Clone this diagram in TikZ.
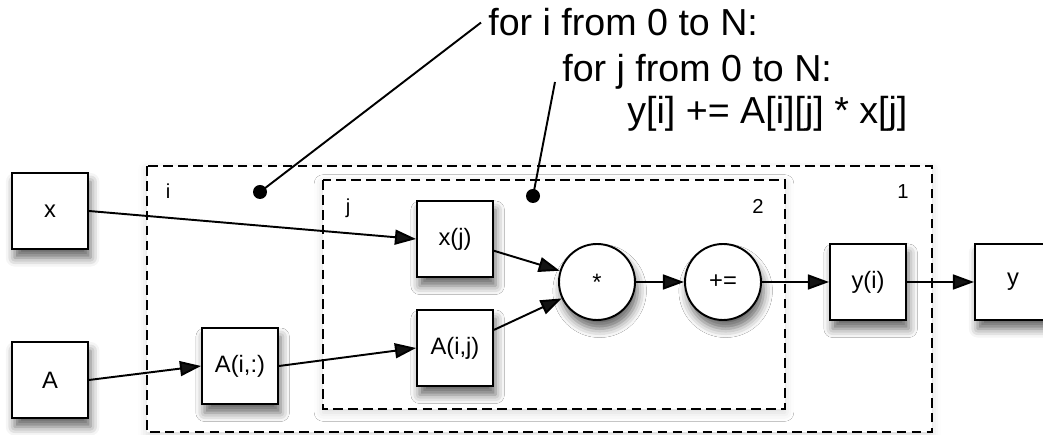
\documentclass[tikz,border=0pt]{standalone}
\usepackage{fontspec}
\setmainfont{Liberation Sans}
\usetikzlibrary{arrows.meta,shadows.blur}

\begin{document}
\begin{tikzpicture}[font=\fontsize{13.5}{16}\selectfont,
  op/.style={draw,line width=1.1pt,fill=white,minimum size=1.52cm,inner sep=0pt,
    blur shadow={shadow xshift=1.5pt,shadow yshift=-5pt,shadow blur radius=5pt,shadow opacity=60}},
  var/.style={op,rectangle},
  calc/.style={op,circle},
  loopbox/.style={draw,line width=1.1pt,dash pattern=on 5.5pt off 3pt,fill=white,
    blur shadow={shadow xshift=0pt,shadow yshift=-2pt,shadow blur radius=5pt,shadow opacity=15}},
  idx/.style={font=\fontsize{11.5}{14}\selectfont,inner sep=0pt,anchor=base},
  code/.style={font=\fontsize{21.4}{26}\selectfont,anchor=base west,inner sep=4pt},
  arr/.style={-{Triangle[length=12pt,width=8.5pt]},line width=1.1pt},
  callout/.style={line width=1.1pt}]
\useasboundingbox (0,0) rectangle (20.86,-8.70);
% loop nests
\draw[loopbox] (2.94,-3.32) rectangle (18.64,-8.64);
\draw[loopbox] (6.46,-3.60) rectangle (15.70,-8.18);
\node[idx] (li) at (3.36,-3.98) {i};
\node[idx] (l1) at (18.06,-3.98) {1};
\node[idx] (lj) at (6.96,-4.28) {j};
\node[idx] (l2) at (15.16,-4.28) {2};
% source code
\node[code] (code1) at (9.62,-0.72) {for i from 0 to N:};
\node[code] (code2) at (11.10,-1.64) {for j from 0 to N:};
\node[code] (code3) at (12.40,-2.48) {y[i] += A[i][j] * x[j]};
\coordinate (dotI) at (5.20,-3.84);
\coordinate (dotJ) at (10.66,-3.92);
\fill (dotI) circle (0.14);
\fill (dotJ) circle (0.14);
\draw[callout] (dotI) -- (code1.west);
\draw[callout] (dotJ) -- (code2.base west);
% dataflow
\node[var] (xin) at (1.00,-4.22) {x};
\node[var] (Ain) at (1.00,-7.60) {A};
\node[var] (Arow) at (4.80,-7.32) {A(i,:)};
\node[var] (xj) at (9.10,-4.78) {x(j)};
\node[var] (Aij) at (9.10,-6.96) {A(i,j)};
\node[calc] (mul) at (11.94,-5.64) {*};
\node[calc] (acc) at (14.46,-5.64) {+=};
\node[var] (yi) at (17.36,-5.64) {y(i)};
\node[var] (yout) at (20.26,-5.64) {y};
\draw[arr] (xin.east) -- (xj.west);
\draw[arr] (Ain.east) -- (Arow.west);
\draw[arr] (Arow.east) -- (Aij.west);
\draw[arr] (xj) -- (mul);
\draw[arr] (Aij) -- (mul);
\draw[arr] (mul) -- (acc);
\draw[arr] (acc) -- (yi);
\draw[arr] (yi) -- (yout);
\end{tikzpicture}
\end{document}
